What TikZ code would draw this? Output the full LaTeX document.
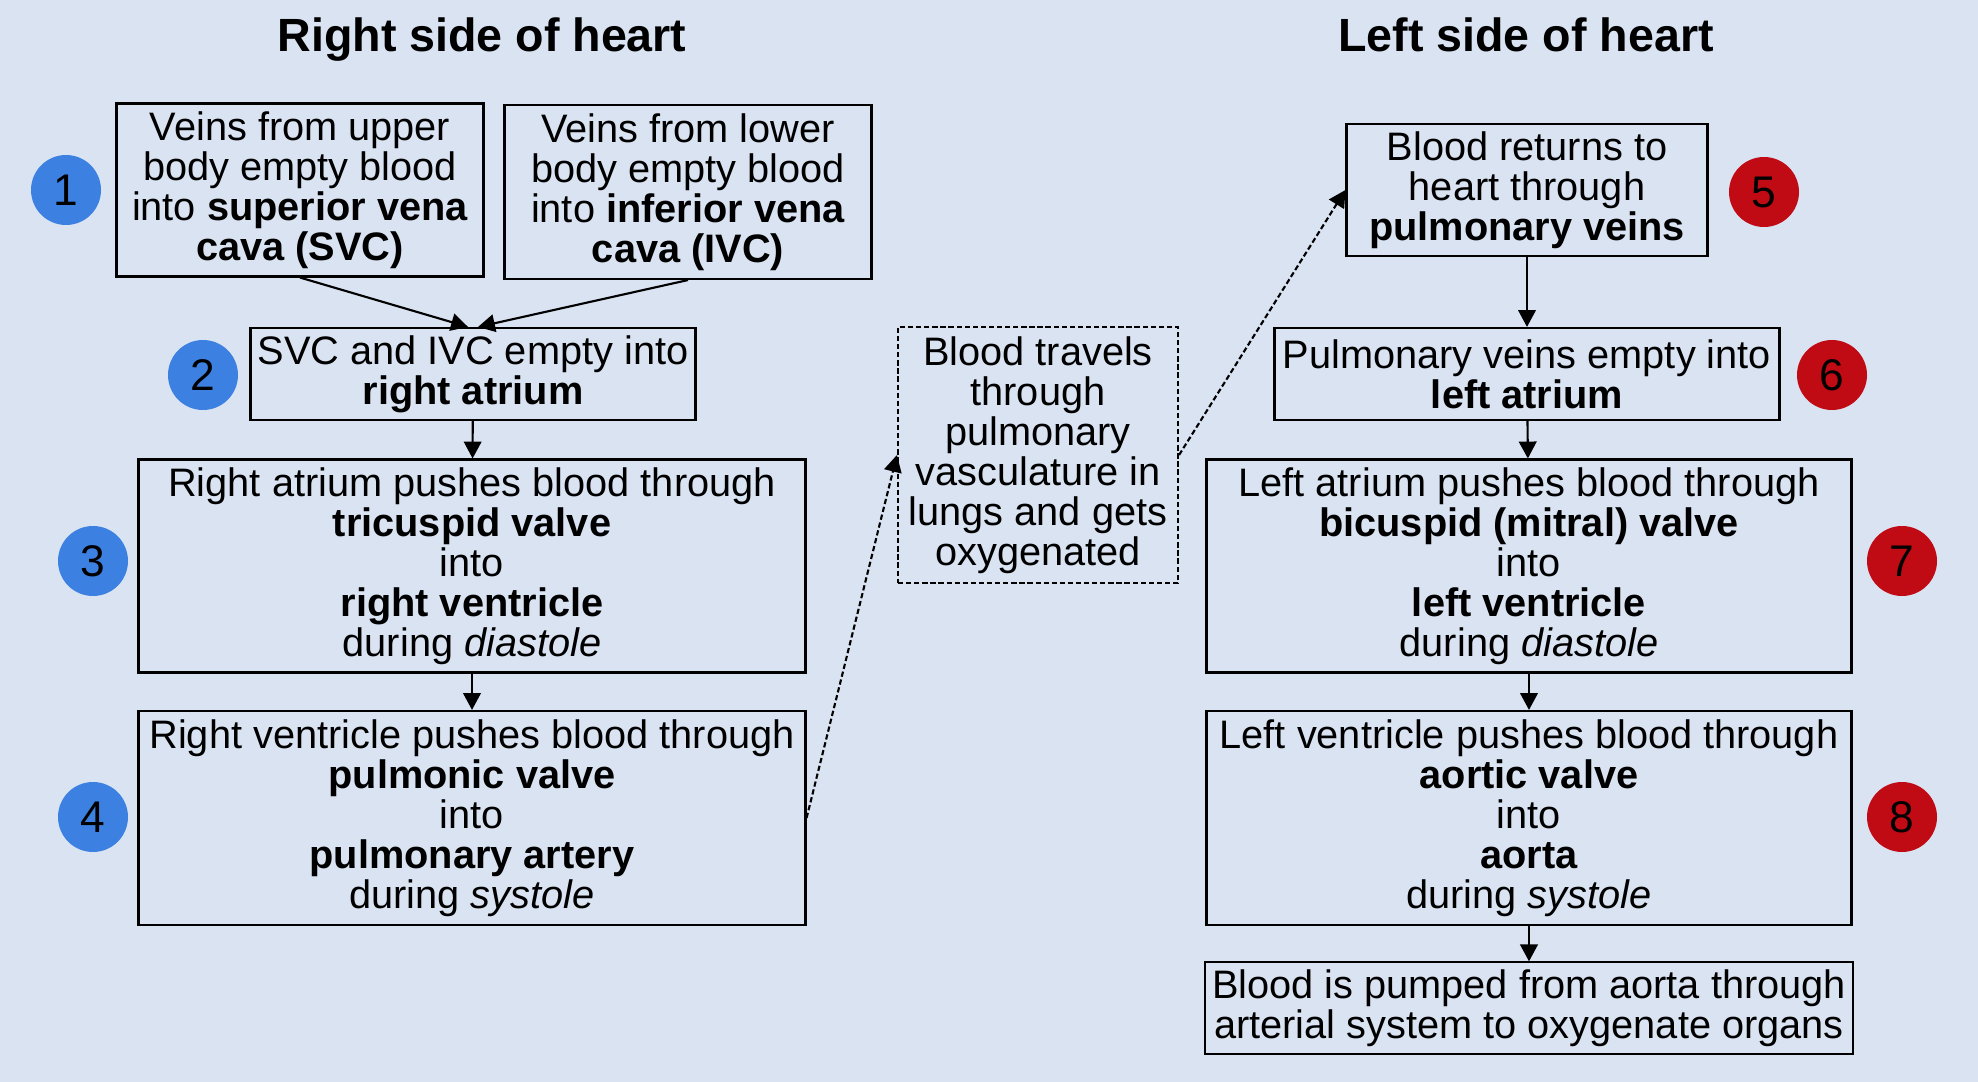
\documentclass[tikz,border=0pt]{standalone}
\usepackage{fontspec}
\setmainfont{Liberation Sans}
\usetikzlibrary{arrows.meta}
\definecolor{cbg}{HTML}{DAE3F2}
\definecolor{cblue}{HTML}{3C80E1}
\definecolor{cred}{HTML}{C00A14}
\newdimen\px \px=0.01cm
\tikzset{
  every picture/.style={font=\fontsize{11.3}{11.4}\selectfont, line width=0.6pt},
  box/.style={draw=black, align=center, inner sep=2pt},
  lungbox/.style={box, dash pattern=on 1.5pt off 0.8pt},
  arrow/.style={-{Triangle[length=4.8pt, width=5pt]}, draw=black},
  darrow/.style={arrow, dash pattern=on 1.5pt off 0.8pt},
  title/.style={anchor=base, font=\fontsize{13.25}{15}\selectfont\bfseries},
  num/.style={circle, fill=#1, minimum size=70\px, inner sep=0pt, font=\fontsize{12.6}{14}\selectfont},
}

\begin{document}
\begin{tikzpicture}[x=0.01cm, y=-0.01cm]
  \fill[cbg] (0,0) rectangle (1978,1082);
  \node[title] (rtitle) at (482,52) {Right side of heart};
  \node[title] (ltitle) at (1526,52) {Left side of heart};
  % right side
  \node[box, minimum width=367\px, minimum height=173\px] (svc) at (300,190) {Veins from upper\\ body empty blood\\ into \textbf{superior vena}\\ \textbf{cava (SVC)}};
  \node[box, minimum width=367\px, minimum height=174\px] (ivc) at (688,192) {Veins from lower\\ body empty blood\\ into \textbf{inferior vena}\\ \textbf{cava (IVC)}};
  \node[box, minimum width=445\px, minimum height=92\px] (ra) at (473,374) {SVC and IVC empty into\\ \textbf{right atrium}};
  \node[box, minimum width=667\px, minimum height=213\px] (tv) at (472,566) {Right atrium pushes blood through\\ \textbf{tricuspid valve}\\ into\\ \textbf{right ventricle}\\ during \textit{diastole}};
  \node[box, minimum width=667\px, minimum height=214\px] (pv) at (472,818) {Right ventricle pushes blood through\\ \textbf{pulmonic valve}\\ into\\ \textbf{pulmonary artery}\\ during \textit{systole}};
  \draw[arrow] (svc.south) -- ([xshift=-5\px]ra.north);
  \draw[arrow] (ivc.south) -- ([xshift=5\px]ra.north);
  \draw[arrow] (ra) -- (tv);
  \draw[arrow] (tv) -- (pv);
  % lungs
  \node[lungbox, minimum width=280\px, minimum height=256\px] (lungs) at (1038,455) {Blood travels\\ through\\ pulmonary\\ vasculature in\\ lungs and gets\\ oxygenated};
  \draw[darrow] (pv.east) -- (lungs.west);
  % left side
  \node[box, minimum width=361\px, minimum height=131\px] (pveins) at (1527,190) {Blood returns to\\ heart through\\ \textbf{pulmonary veins}};
  \node[box, minimum width=505\px, minimum height=92\px] (la) at (1527,374) {Pulmonary veins empty into\\ \textbf{left atrium}};
  \node[box, minimum width=645\px, minimum height=213\px] (mv) at (1529,566) {Left atrium pushes blood through\\ \textbf{bicuspid (mitral) valve}\\ into\\ \textbf{left ventricle}\\ during \textit{diastole}};
  \node[box, minimum width=645\px, minimum height=214\px] (av) at (1529,818) {Left ventricle pushes blood through\\ \textbf{aortic valve}\\ into\\ \textbf{aorta}\\ during \textit{systole}};
  \node[box, minimum width=645\px, minimum height=89\px] (organs) at (1529,1008) {Blood is pumped from aorta through\\ arterial system to oxygenate organs};
  \draw[darrow] (lungs.east) -- (pveins.west);
  \draw[arrow] (pveins) -- (la);
  \draw[arrow] (la) -- (mv);
  \draw[arrow] (mv) -- (av);
  \draw[arrow] (av) -- (organs);
  % step numbers
  \node[num=cblue] (n1) at (66,190) {1};
  \node[num=cblue] (n2) at (203,375) {2};
  \node[num=cblue] (n3) at (93,561) {3};
  \node[num=cblue] (n4) at (93,817) {4};
  \node[num=cred] (n5) at (1764,192) {5};
  \node[num=cred] (n6) at (1832,375) {6};
  \node[num=cred] (n7) at (1902,561) {7};
  \node[num=cred] (n8) at (1902,817) {8};
\end{tikzpicture}
\end{document}
